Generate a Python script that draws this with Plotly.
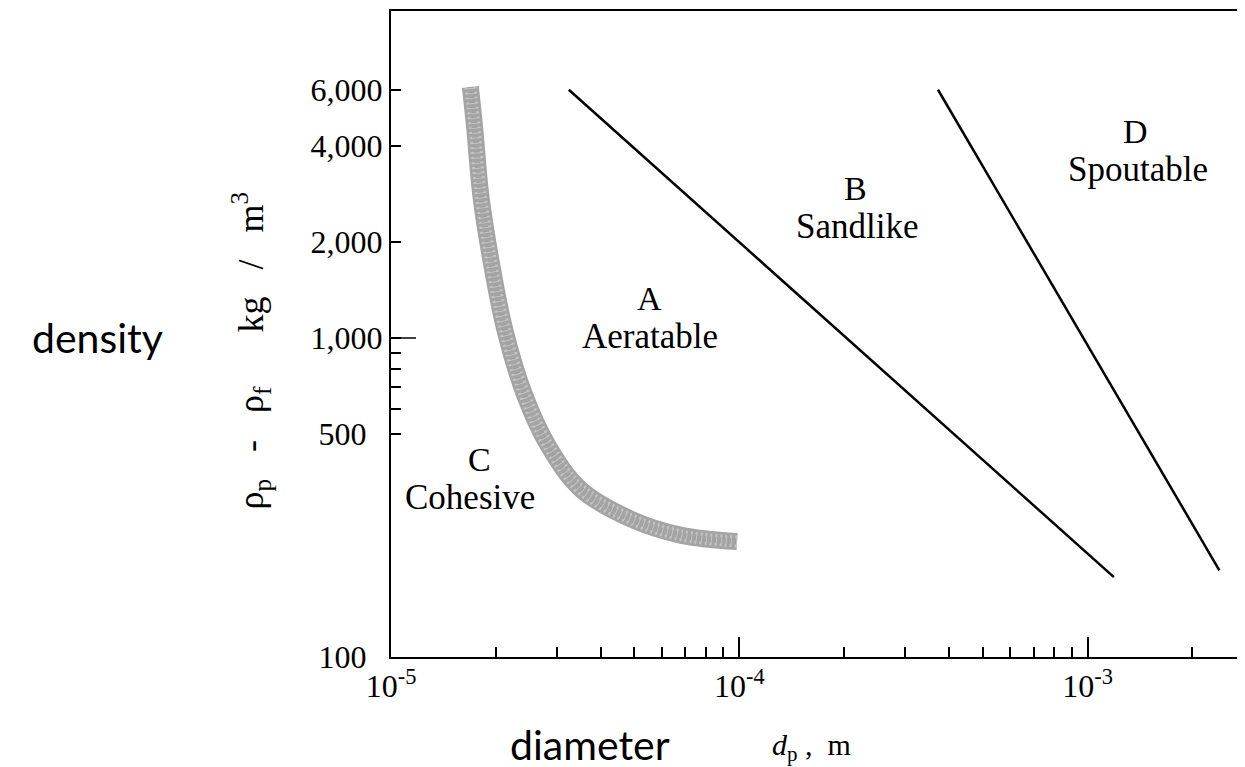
import math
import plotly.graph_objects as go

# ---- data ----
dp_AB = [3.24e-5, 1.19e-3]          # A/B boundary
rho_AB = [6000, 178]
dp_BD = [3.72e-4, 2.39e-3]          # B/D boundary
rho_BD = [6000, 187]
dp_C = [1.69e-5, 1.74e-5, 1.81e-5, 1.94e-5, 2.12e-5, 2.42e-5,
        2.82e-5, 3.50e-5, 4.87e-5, 6.78e-5, 9.86e-5]   # C/A band
rho_C = [6120, 4520, 2810, 1730, 1067, 662, 462, 336, 271, 241, 230]

group_letters = ["A", "B", "C", "D"]
group_names = ["Aeratable", "Sandlike", "Cohesive", "Spoutable"]
group_dp = [5.52e-5, 2.16e-4, 1.79e-5, 1.375e-3]
group_rho = [1150, 2550, 360, 3850]
name_xshift = [1, 1, -9, 2]

y_tickvals = [100, 500, 1000, 2000, 4000, 6000]
y_ticktext = ["100&nbsp;&nbsp;", "500&nbsp;&nbsp;", "1,000", "2,000", "4,000", "6,000"]
y_minor = [600, 700, 800, 900]
x_tickvals = [1e-5, 1e-4, 1e-3]
x_ticktext = ["10<sup>-5</sup>", "10<sup>-4</sup>", "10<sup>-3</sup>"]
x_minor = [2e-5, 3e-5, 4e-5, 5e-5, 6e-5, 7e-5, 8e-5, 9e-5,
           2e-4, 3e-4, 4e-4, 5e-4, 6e-4, 7e-4, 8e-4, 9e-4, 2e-3]

SERIF = "Liberation Serif, Times New Roman, serif"
SANS = "Lato, Carlito, Calibri, sans-serif"

fig = go.Figure()
fig.add_trace(go.Scatter(x=dp_C, y=rho_C, mode="lines",
                         line=dict(color="#a4a4a4", width=17, shape="spline"),
                         hoverinfo="skip", showlegend=False))
fig.add_trace(go.Scatter(x=dp_C, y=rho_C, mode="lines",
                         line=dict(color="rgba(255,255,255,0.35)", width=12, dash="2px,3px", shape="spline"),
                         hoverinfo="skip", showlegend=False))
fig.add_trace(go.Scatter(x=dp_C, y=rho_C, mode="lines",
                         line=dict(color="rgba(90,90,90,0.35)", width=6, dash="1px,4px", shape="spline"),
                         hoverinfo="skip", showlegend=False))
fig.add_trace(go.Scatter(x=dp_AB, y=rho_AB, mode="lines",
                         line=dict(color="black", width=2.5), showlegend=False))
fig.add_trace(go.Scatter(x=dp_BD, y=rho_BD, mode="lines",
                         line=dict(color="black", width=2.5), showlegend=False))

ann = []
for L, N, xd, yd, xs in zip(group_letters, group_names, group_dp, group_rho, name_xshift):
    ann.append(dict(x=math.log10(xd), y=math.log10(yd), xref="x", yref="y",
                    text=L, showarrow=False, yshift=20, xanchor="center",
                    font=dict(family=SERIF, size=34, color="black")))
    ann.append(dict(x=math.log10(xd), y=math.log10(yd), xref="x", yref="y",
                    text=N, showarrow=False, yshift=-18, xshift=xs, xanchor="center",
                    font=dict(family=SERIF, size=35, color="black")))

ann.append(dict(x=-0.341, y=0.494, xref="paper", yref="paper", text="density",
                xanchor="center", yanchor="middle",
                showarrow=False, font=dict(family=SANS, size=41, color="black")))
ann.append(dict(x=0.2314, y=-0.135, xref="paper", yref="paper", text="diameter",
                xanchor="center", yanchor="middle",
                showarrow=False, font=dict(family=SANS, size=41, color="black")))
ann.append(dict(x=0.44, y=-0.139, xref="paper", yref="paper", xanchor="left",
                yanchor="middle",
                text="<i>d</i><sub>p</sub> ,  m", showarrow=False,
                font=dict(family=SERIF, size=30, color="black")))
sp = "&nbsp;"
ylab = ("ρ<sub>p</sub>" + sp * 3 + "-" + sp * 3 + "ρ<sub>f</sub>" + sp * 6 +
        "kg" + sp * 3 + "/" + sp * 3 + "m<sup>3</sup>")
ann.append(dict(x=-0.162, y=0.475, xref="paper", yref="paper", textangle=-90,
                xanchor="center", yanchor="middle",
                text=ylab, showarrow=False,
                font=dict(family=SERIF, size=36, color="black")))

fig.add_shape(type="line", xref="paper", yref="y", x0=0, x1=0.029, y0=1000, y1=1000,
              line=dict(color="black", width=1.5))

fig.update_layout(
    width=1245, height=767,
    margin=dict(l=383, r=0, t=3, b=118),
    paper_bgcolor="white", plot_bgcolor="white",
    showlegend=False,
    annotations=ann,
    xaxis=dict(type="log", range=[-5, -2.525], showgrid=False, zeroline=False,
               showline=True, linecolor="black", linewidth=2, mirror=True,
               ticks="inside", ticklen=20, tickwidth=1.5, tickcolor="black",
               tickvals=x_tickvals, ticktext=x_ticktext,
               minor=dict(tickvals=x_minor, ticks="inside", ticklen=10,
                          tickwidth=1.5, tickcolor="black", showgrid=False),
               tickfont=dict(family=SERIF, size=32, color="black")),
    yaxis=dict(type="log", range=[2, 4.025], showgrid=False, zeroline=False,
               showline=True, linecolor="black", linewidth=2,
               ticks="inside", ticklen=10, tickwidth=1.5, tickcolor="black",
               tickvals=y_tickvals, ticktext=y_ticktext,
               minor=dict(tickvals=y_minor, ticks="inside", ticklen=10,
                          tickwidth=1.5, tickcolor="black", showgrid=False),
               tickfont=dict(family=SERIF, size=32, color="black")),
)

fig.write_html("out.html")
